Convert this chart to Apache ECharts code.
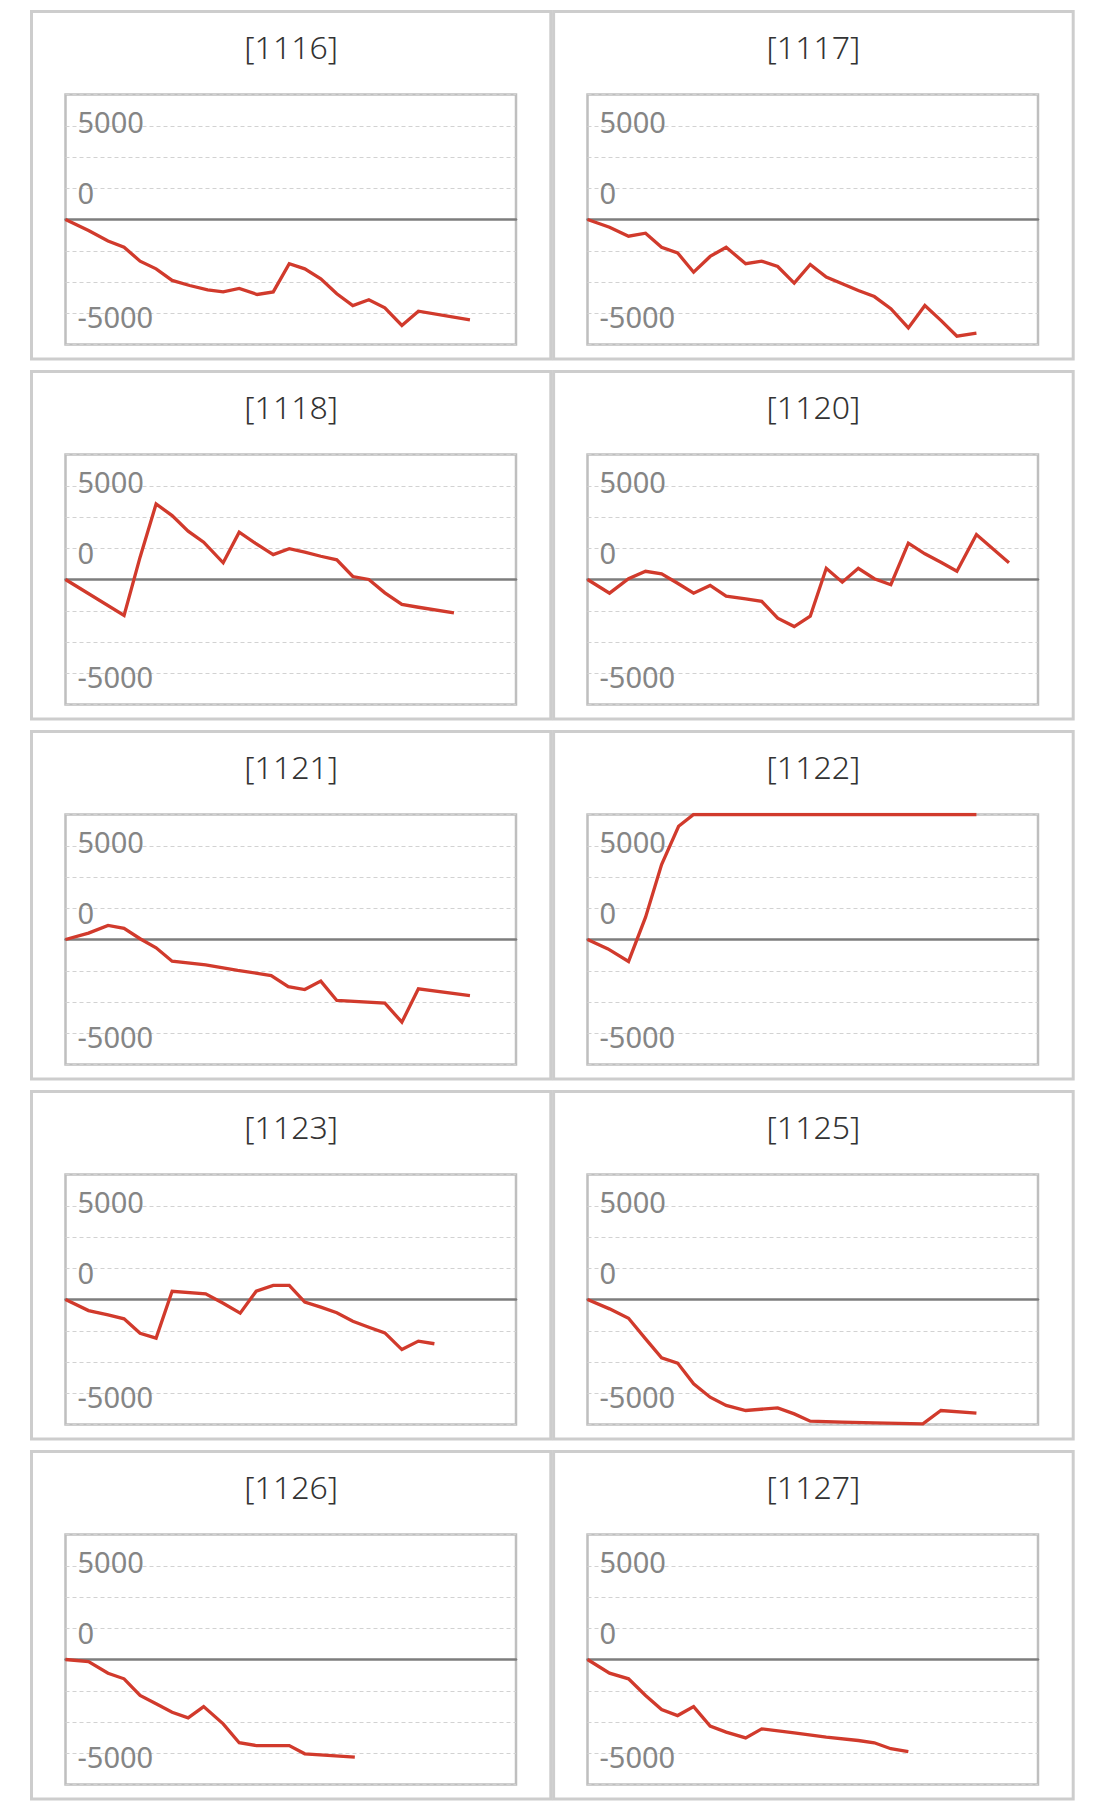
<!DOCTYPE html>
<html><head><meta charset="utf-8">
<script src="https://cdn.jsdelivr.net/npm/echarts@6/dist/echarts.min.js"></script>
<style>html,body{margin:0;padding:0;background:#fff}#c{width:1113px;height:1809px}</style>
</head><body><div id="c"></div>
<script>
// ---- data (x = games played, y = coin difference) ----
const machines = ['1116','1117','1118','1120','1121','1122','1123','1125','1126','1127'];

const g1116 = [0,460,850,1170,1490,1810,2130,2480,2840,3150,3470,3830,4150,4470,4780,5100,5420,5740,6060,6380,6720,7050,8080];
const d1116 = [0,-590,-1150,-1480,-2220,-2630,-3250,-3520,-3750,-3860,-3680,-4000,-3860,-2360,-2630,-3160,-3960,-4590,-4280,-4710,-5650,-4890,-5350];

const g1117 = [0,440,820,1160,1480,1800,2120,2450,2770,3160,3480,3800,4130,4450,4770,5090,5410,5730,6060,6410,6740,7060,7380,7770];
const d1117 = [0,-410,-890,-730,-1480,-1780,-2810,-1970,-1480,-2360,-2220,-2510,-3390,-2400,-3070,-3430,-3790,-4110,-4760,-5780,-4590,-5380,-6220,-6060];

const g1118 = [0,1170,1490,1810,2130,2450,2760,3150,3470,3790,4150,4470,4780,5100,5420,5740,6060,6380,6720,7050,7760];
const d1118 = [0,-1920,1190,4030,3410,2580,1990,890,2520,1940,1330,1640,1460,1240,1050,160,0,-710,-1330,-1480,-1780];

const g1120 = [0,440,820,1160,1480,1800,2120,2450,2770,3160,3480,3800,4130,4450,4770,5090,5410,5730,6060,6410,6740,7060,7380,7770,8420];
const d1120 = [0,-730,40,440,300,-200,-730,-320,-890,-1030,-1160,-2060,-2510,-1960,600,-140,600,40,-280,1940,1370,920,440,2400,890];

const g1121 = [0,460,850,1170,1490,1810,2130,2800,3440,4110,4450,4780,5100,5420,6380,6720,7050,8080];
const d1121 = [0,340,750,600,40,-440,-1160,-1350,-1650,-1920,-2510,-2670,-2220,-3250,-3390,-4410,-2630,-2990];

const g1122 = [0,410,820,1160,1480,1820,2120,7770];
const d1122 = [0,-500,-1170,1190,4000,6040,6666,6666];

const g1123 = [0,460,850,1170,1490,1810,2130,2800,3150,3490,3810,4150,4470,4780,5100,5420,5740,6060,6380,6720,7050,7370];
const d1123 = [0,-590,-820,-1030,-1800,-2060,440,300,-200,-730,440,750,750,-140,-410,-710,-1160,-1480,-1780,-2670,-2220,-2360];

const g1125 = [0,440,820,1160,1480,1800,2120,2450,2770,3160,3800,4130,4450,5090,5730,6700,7060,7770];
const d1125 = [0,-500,-1000,-2100,-3110,-3390,-4500,-5210,-5650,-5920,-5780,-6100,-6490,-6540,-6580,-6630,-5920,-6060];

const g1126 = [0,460,850,1170,1490,1810,2130,2450,2760,3150,3470,3810,4470,4780,5780];
const d1126 = [0,-110,-730,-1030,-1920,-2360,-2810,-3110,-2510,-3430,-4440,-4590,-4590,-5030,-5210];

const g1127 = [0,440,820,1160,1480,1800,2120,2450,2770,3160,3480,4130,4770,5410,5730,6060,6410];
const d1127 = [0,-730,-1030,-1920,-2670,-2990,-2510,-3550,-3870,-4180,-3700,-3910,-4140,-4320,-4440,-4760,-4910];

// y axis: tick labels as printed in the picture and the gridlines they sit on
const yLabelAt   = [5000, 5000/3, -5000];
const yLabelText = ['5000', '0', '-5000'];
const Y_MIN = -20000/3, Y_MAX = 20000/3, Y_STEP = 5000/3;
const X_MIN = 0, X_MAX = 9000;

const gamesList = [g1116,g1117,g1118,g1120,g1121,g1122,g1123,g1125,g1126,g1127];
const diffList  = [d1116,d1117,d1118,d1120,d1121,d1122,d1123,d1125,d1126,d1127];

// ---- layout ----
const FONT = '"Noto Sans", "Liberation Sans", sans-serif';
const labelStyles = ['up', 'down', 'down2'];
const chart = echarts.init(document.getElementById('c'), null, {renderer:'svg', width:1113, height:1809});
const grids=[], xAxes=[], yAxes=[], series=[], graphics=[];

machines.forEach((m,i)=>{
  const col = i%2, row = Math.floor(i/2);
  const rowTop = row*360;
  const panelX = col ? 553.6 : 31.5;
  const panelW = col ? 519.6 : 519.3;
  const plotLeft = col ? 587.5 : 65.5;
  graphics.push({type:'rect', silent:true, z:-10,
    shape:{x:panelX, y:rowTop+11.5, width:panelW, height:347.5},
    style:{fill:'none', stroke:'#cdcdcd', lineWidth:3}});
  graphics.push({type:'text', silent:true, x: panelX+panelW/2, y: rowTop+46,
    style:{text:'['+m+']', fill:'#333333', font:'300 32px '+FONT, align:'center', verticalAlign:'middle'}});
  grids.push({left:plotLeft, top:rowTop+94.5, width:450.5, height:250, show:true,
    borderColor:'#bfbfbf', borderWidth:2.5, backgroundColor:'transparent', containLabel:false});
  xAxes.push({type:'value', gridIndex:i, min:X_MIN, max:X_MAX,
    axisLine:{show:true, onZero:true, lineStyle:{color:'#7d7d7d', width:2.5}},
    axisTick:{show:false}, axisLabel:{show:false}, splitLine:{show:false}});
  const lbl = {fontSize:29, fontFamily:FONT, fontWeight:'normal', color:'#858585'};
  yAxes.push({type:'value', gridIndex:i, min:Y_MIN, max:Y_MAX, interval:Y_STEP,
    axisLine:{show:false}, axisTick:{show:false},
    splitLine:{show:true, lineStyle:{color:'#d2d2d2', width:1, type:[4,3]}},
    axisLabel:Object.assign({inside:true, margin:12, verticalAlign:'middle',
      rich:{
        up:Object.assign({padding:[0,0,8,0]}, lbl),
        down:Object.assign({padding:[9,0,0,0]}, lbl),
        down2:Object.assign({padding:[7,0,0,0]}, lbl)
      },
      formatter:(v)=>{ const k = yLabelAt.findIndex(t=>Math.abs(t-v)<1);
        return k<0 ? '' : '{'+labelStyles[k]+'|'+yLabelText[k]+'}'; }}, lbl)});
  series.push({type:'line', xAxisIndex:i, yAxisIndex:i, symbol:'none', clip:true, z:5,
    lineStyle:{color:'#d13a2c', width:3.3, join:'miter'},
    data: gamesList[i].map((g,k)=>[g, diffList[i][k]])});
});

chart.setOption({animation:false, backgroundColor:'#ffffff',
  grid:grids, xAxis:xAxes, yAxis:yAxes, series:series, graphic:graphics});
</script></body></html>
